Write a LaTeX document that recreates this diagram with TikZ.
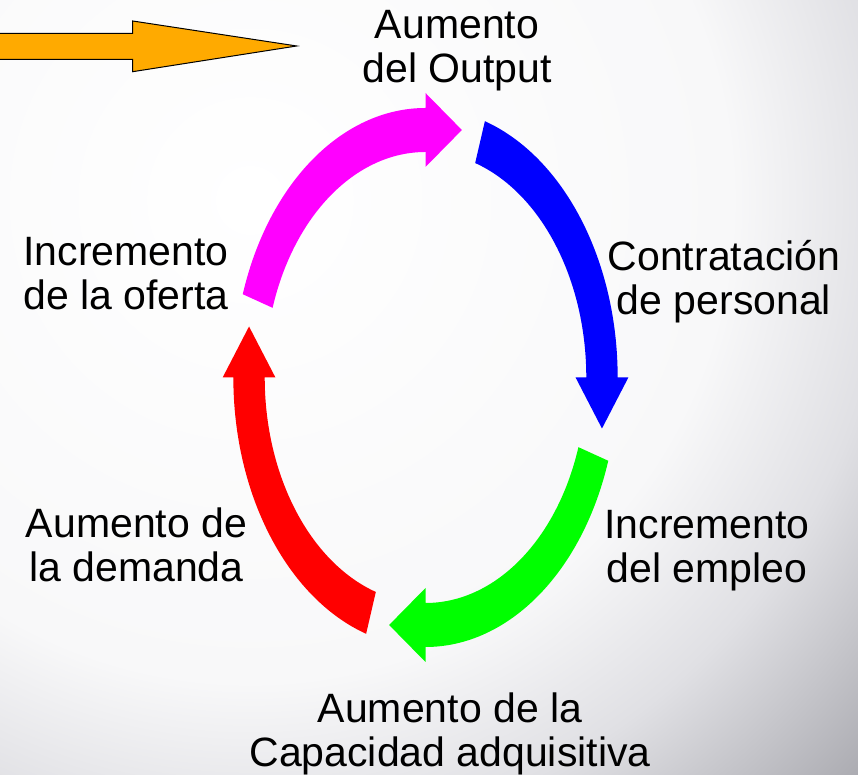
\documentclass[tikz,border=0pt]{standalone}
\usepackage{fontspec}
\setmainfont{Liberation Sans}
\usepackage{xcolor}
\usetikzlibrary{calc}
\definecolor{naranja}{RGB}{255,170,0}
\definecolor{fucsia}{RGB}{255,0,255}
\definecolor{azul}{RGB}{0,0,255}
\definecolor{verde}{RGB}{0,255,0}
\definecolor{rojo}{RGB}{255,0,0}
\definecolor{fondoClaro}{RGB}{248,248,249}
\definecolor{fondoMedio}{RGB}{224,224,228}
\definecolor{fondoOscuro}{RGB}{170,170,176}
\pgfdeclareradialshading{fondo}{\pgfpoint{0bp}{0bp}}{color(0bp)=(white); color(480bp)=(fondoClaro); color(640bp)=(fondoMedio); color(840bp)=(fondoOscuro); color(900bp)=(fondoOscuro)}
% flecha curva: #1 = angulo de la cola, #2 = color
\newcommand{\flecha}[2]{
\fill[#2] (#1:\Rext) arc[start angle = #1, end angle = {#1-72}, radius = \Rext]
    -- ({#1-72}:\Rpext) -- ($({#1-72}:\Radio)+({#1-162}:\largo)$) -- ({#1-72}:\Rpint)
    -- ({#1-72}:\Rint) arc[start angle = {#1-72}, end angle = #1, radius = \Rint] -- cycle;
}

\begin{document}
\begin{tikzpicture}[x = 1pt, y = 1pt,
    etiqueta/.style = {align = center, inner sep = 0pt, anchor = base, font = \fontsize{41}{44}\selectfont}]
    % Parametros
    \pgfmathsetmacro{\Radio}{247.5}
    \pgfmathsetmacro{\grosor}{44}
    \pgfmathsetmacro{\punta}{74}
    \pgfmathsetmacro{\largo}{51}
    \pgfmathsetmacro{\Rext}{\Radio+\grosor/2}
    \pgfmathsetmacro{\Rint}{\Radio-\grosor/2}
    \pgfmathsetmacro{\Rpext}{\Radio+\punta/2}
    \pgfmathsetmacro{\Rpint}{\Radio-\punta/2}
    \useasboundingbox (0,0) rectangle (858,775);
    \clip (0,0) rectangle (858,775);
    % Fondo
    \node[inner sep = 0pt] (fondo) at (250,575) {\pgfuseshading{fondo}};
    % Flecha naranja
    \draw[fill = naranja, line width = 1pt] (-5,741.7) -- (132.7,741.7) -- (132.7,754) -- (296.7,729)
        -- (132.7,703.3) -- (132.7,715.7) -- (-5,715.7) -- cycle;
    % Ciclo
    \begin{scope}[shift = {(425.5,397.5)}, xscale = 0.713]
        \flecha{162}{fucsia}
        \flecha{72}{azul}
        \flecha{-18}{verde}
        \flecha{-108}{rojo}
    \end{scope}
    % Etiquetas (ancla en la linea de base de la ultima linea)
    \node[etiqueta] (output) at (457,692) {Aumento\\del Output};
    \node[etiqueta] (personal) at (724,460) {Contratación\\de personal};
    \node[etiqueta] (empleo) at (707,192) {Incremento\\del empleo};
    \node[etiqueta] (capacidad) at (450,8.5) {Aumento de la\\Capacidad adquisitiva};
    \node[etiqueta] (demanda) at (136.5,193.5) {Aumento de\\la demanda};
    \node[etiqueta] (oferta) at (126,465) {Incremento\\de la oferta};
\end{tikzpicture}
\end{document}
